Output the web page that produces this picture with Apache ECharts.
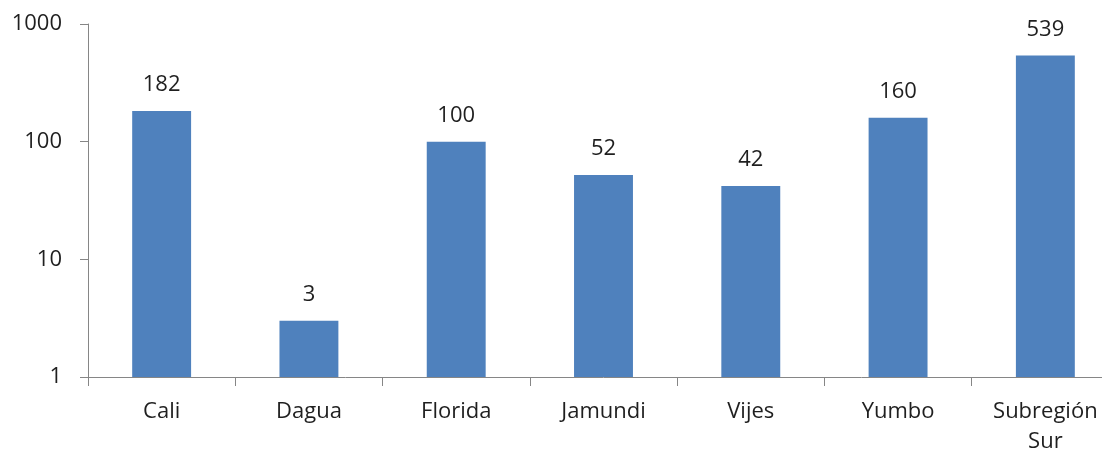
<!DOCTYPE html>
<html>
<head>
<meta charset="utf-8">
<script src="https://cdn.jsdelivr.net/npm/echarts@6/dist/echarts.min.js"></script>
<style>
  html, body { margin: 0; padding: 0; background: #ffffff; overflow: hidden; }
  /* canvas is a little wider than the window: the last category runs past the right edge */
  #chart { width: 1120px; height: 453px; }
</style>
</head>
<body>
<div id="chart"></div>
<script>
// Municipalities of the southern subregion and their counts (log scale)
const categories = ['Cali', 'Dagua', 'Florida', 'Jamundi', 'Vijes', 'Yumbo', 'Subregión\nSur'];
const values = [182, 3, 100, 52, 42, 160, 539];
const yMin = 1;
const yMax = 1000;

const FONT = '"Open Sans", "Noto Sans", sans-serif';
const TEXT = '#1f1f1f';
const AXIS = '#868686';

const chart = echarts.init(document.getElementById('chart'), null, { renderer: 'canvas' });

chart.setOption({
  animation: false,
  backgroundColor: '#ffffff',
  grid: {
    left: 88, top: 24, right: 1, bottom: 76,
    containLabel: false,
    outerBoundsMode: 'none'
  },
  xAxis: {
    type: 'category',
    data: categories,
    boundaryGap: true,
    axisLine: { show: true, lineStyle: { color: AXIS, width: 1 } },
    axisTick: { show: true, length: 9, lineStyle: { color: AXIS } },
    axisLabel: {
      color: TEXT, fontFamily: FONT, fontSize: 22, lineHeight: 30,
      margin: 20, interval: 0
    },
    splitLine: { show: false }
  },
  yAxis: {
    type: 'log',
    logBase: 10,
    min: yMin,
    max: yMax,
    axisLine: { show: true, lineStyle: { color: AXIS, width: 1 } },
    axisTick: { show: true, length: 8, lineStyle: { color: AXIS } },
    minorTick: { show: false },
    axisLabel: {
      color: TEXT, fontFamily: FONT, fontSize: 22, margin: 26,
      formatter: function (v) { return String(Math.round(v)); }
    },
    splitLine: { show: false }
  },
  series: [{
    type: 'bar',
    data: values,
    barWidth: '40%',
    itemStyle: { color: '#4F81BD' },
    label: {
      show: true,
      position: 'top',
      distance: 15,
      color: TEXT,
      fontFamily: FONT,
      fontSize: 22
    }
  }]
});
</script>
</body>
</html>
